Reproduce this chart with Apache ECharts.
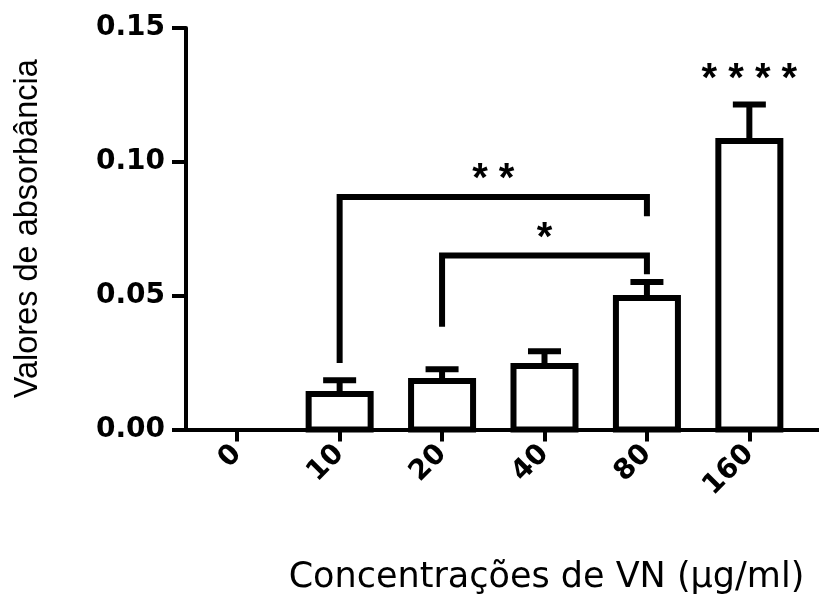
<!DOCTYPE html>
<html>
<head>
<meta charset="utf-8">
<script src="https://cdn.jsdelivr.net/npm/echarts@6/dist/echarts.min.js"></script>
<style>
html,body{margin:0;padding:0;background:#fff;}
#chart{width:819px;height:597px;}
</style>
</head>
<body>
<div id="chart"></div>
<script>
// ---- data ----
const categories = ['0', '10', '20', '40', '80', '160'];
const means = [0, 0.0133, 0.0181, 0.0237, 0.0491, 0.1078];
const errors = [0, 0.0051, 0.0044, 0.0055, 0.0060, 0.0136];
const starLabels = ['', '', '', '', '', '* * * *'];
// significance brackets
const bracketFrom = [1, 2];
const bracketTo = [4, 4];
const bracketTop = [0.0869, 0.0650];
const bracketLeftFoot = [0.0248, 0.0384];
const bracketRightFoot = [0.0797, 0.0580];
const bracketMarks = ['* *', '*'];

const FONT = "'Liberation Sans', Arial, sans-serif";
const WIDE = "'DejaVu Sans', 'Liberation Sans', sans-serif";
const idx = categories.map((c, i) => i);

const chart = echarts.init(document.getElementById('chart'), null, {renderer: 'canvas'});

const barData = idx.map(i => [i, means[i], errors[i]]);
const bracketData = bracketFrom.map((f, k) => [f, bracketTo[k], bracketTop[k], bracketLeftFoot[k], bracketRightFoot[k], k]);

chart.setOption({
  animation: false,
  backgroundColor: '#fff',
  grid: {left: 186, right: 0, top: 28, bottom: 167.5, containLabel: false, outerBoundsMode: 'none'},
  xAxis: {
    type: 'value', min: -0.5, max: 5.68,
    name: 'Concentrações de VN (µg/ml)',
    nameLocation: 'middle', nameGap: 131,
    nameTextStyle: {fontFamily: WIDE, fontSize: 35, color: '#000', padding: [0, 0, 0, 88]},
    axisLine: {show: true, onZero: false, lineStyle: {color: '#000', width: 4}},
    axisTick: {show: true, customValues: idx, length: 12, lineStyle: {color: '#000', width: 4}},
    axisLabel: {customValues: idx, formatter: v => categories[Math.round(v)], rotate: 45, margin: 20,
      fontFamily: WIDE, fontWeight: 'bold', fontSize: 28, color: '#000'},
    splitLine: {show: false}
  },
  yAxis: {
    type: 'value', min: 0, max: 0.15, interval: 0.05,
    name: 'Valores de absorbância',
    nameLocation: 'middle', nameGap: 141,
    nameTextStyle: {fontFamily: FONT, fontSize: 32.5, color: '#000'},
    axisLine: {show: true, onZero: false, lineStyle: {color: '#000', width: 4}},
    axisTick: {show: true, length: 14, lineStyle: {color: '#000', width: 4}},
    axisLabel: {formatter: v => v.toFixed(2), margin: 21, fontFamily: WIDE, fontWeight: 'bold', fontSize: 28, color: '#000'},
    splitLine: {show: false}
  },
  series: [
    {
      // bars with error bars (stroke centred on the value line, as in the original)
      type: 'custom',
      data: barData,
      z: 2,
      renderItem: function (params, api) {
        const i = api.value(0), m = api.value(1), e = api.value(2);
        const lbl = starLabels[i];
        const children = [];
        if (m > 0) {
          const top = api.coord([i, m]);
          const base = api.coord([i, 0]);
          children.push({type: 'rect', shape: {x: top[0] - 31, y: top[1], width: 62, height: base[1] - top[1]},
            style: {fill: '#fff', stroke: '#000', lineWidth: 6, lineJoin: 'miter'}});
        }
        if (e > 0) {
          const base = api.coord([i, m]);
          const top = api.coord([i, m + e]);
          children.push({type: 'line', shape: {x1: base[0], y1: base[1], x2: top[0], y2: top[1]},
            style: {stroke: '#000', lineWidth: 6}});
          children.push({type: 'line', shape: {x1: top[0] - 16.5, y1: top[1], x2: top[0] + 16.5, y2: top[1]},
            style: {stroke: '#000', lineWidth: 6}});
          if (lbl) {
            children.push({type: 'text', style: {text: lbl, x: top[0], y: top[1] - 5, align: 'center', verticalAlign: 'bottom',
              font: 'bold 40px ' + FONT, fill: '#000'}});
          }
        }
        return {type: 'group', children: children};
      }
    },
    {
      type: 'custom',
      data: bracketData,
      z: 4,
      renderItem: function (params, api) {
        const f = api.value(0), t = api.value(1), top = api.value(2), lf = api.value(3), rf = api.value(4);
        const k = api.value(5);
        const p1 = api.coord([f, lf]), p2 = api.coord([f, top]), p3 = api.coord([t, top]), p4 = api.coord([t, rf]);
        return {type: 'group', children: [
          {type: 'polyline', shape: {points: [p1, p2, p3, p4]},
            style: {stroke: '#000', lineWidth: 6, fill: 'none', lineJoin: 'miter'}},
          {type: 'text', style: {text: bracketMarks[k], x: (p2[0] + p3[0]) / 2, y: p2[1] + 3, align: 'center', verticalAlign: 'bottom',
            font: 'bold 40px ' + FONT, fill: '#000'}}
        ]};
      }
    }
  ]
});
</script>
</body>
</html>
